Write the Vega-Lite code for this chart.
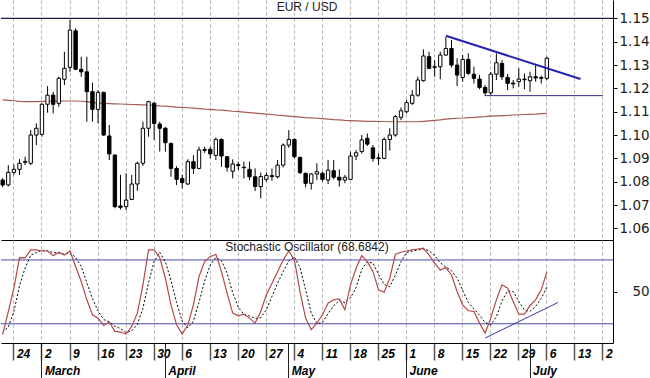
{
  "$schema": "https://vega.github.io/schema/vega-lite/v6.json",
  "padding": 0,
  "background": "white",
  "config": {"view": {"stroke": null}},
  "datasets": {
    "candles": [
      {"d":"2020-02-20","o":1.0807,"h":1.0815,"l":1.0776,"c":1.0786,"ma":1.1151,"k":10,"sd":12},
      {"d":"2020-02-21","o":1.0786,"h":1.0871,"l":1.0780,"c":1.0840,"ma":1.1149,"k":31.5,"sd":17},
      {"d":"2020-02-24","o":1.0840,"h":1.0874,"l":1.0829,"c":1.0853,"ma":1.1147,"k":53.4,"sd":31.6},
      {"d":"2020-02-25","o":1.0853,"h":1.0897,"l":1.0829,"c":1.0879,"ma":1.1144,"k":82.2,"sd":55.7},
      {"d":"2020-02-26","o":1.0883,"h":1.0907,"l":1.0871,"c":1.0887,"ma":1.1143,"k":82,"sd":72.5},
      {"d":"2020-02-27","o":1.0879,"h":1.1021,"l":1.0871,"c":1.1000,"ma":1.1143,"k":89.4,"sd":84.5},
      {"d":"2020-02-28","o":1.1000,"h":1.1050,"l":1.0957,"c":1.1029,"ma":1.1143,"k":89.4,"sd":86.9},
      {"d":"2020-03-02","o":1.1003,"h":1.1136,"l":1.0993,"c":1.1132,"ma":1.1144,"k":88.4,"sd":89.1},
      {"d":"2020-03-03","o":1.1132,"h":1.1210,"l":1.1096,"c":1.1171,"ma":1.1144,"k":88.4,"sd":88.7},
      {"d":"2020-03-04","o":1.1171,"h":1.1186,"l":1.1093,"c":1.1132,"ma":1.1145,"k":84,"sd":86.9},
      {"d":"2020-03-05","o":1.1136,"h":1.1250,"l":1.1121,"c":1.1243,"ma":1.1145,"k":87.2,"sd":86.5},
      {"d":"2020-03-06","o":1.1239,"h":1.1357,"l":1.1214,"c":1.1286,"ma":1.1146,"k":84.7,"sd":85.3},
      {"d":"2020-03-09","o":1.1290,"h":1.1493,"l":1.1271,"c":1.1450,"ma":1.1146,"k":88.4,"sd":86.8},
      {"d":"2020-03-10","o":1.1447,"h":1.1457,"l":1.1279,"c":1.1282,"ma":1.1146,"k":73.8,"sd":82.3},
      {"d":"2020-03-11","o":1.1282,"h":1.1336,"l":1.1250,"c":1.1271,"ma":1.1145,"k":59.7,"sd":74},
      {"d":"2020-03-12","o":1.1271,"h":1.1336,"l":1.1057,"c":1.1186,"ma":1.1143,"k":42.5,"sd":58.7},
      {"d":"2020-03-13","o":1.1186,"h":1.1224,"l":1.1057,"c":1.1110,"ma":1.1140,"k":28.4,"sd":43.5},
      {"d":"2020-03-16","o":1.1110,"h":1.1193,"l":1.1050,"c":1.1183,"ma":1.1137,"k":25.3,"sd":32.1},
      {"d":"2020-03-17","o":1.1183,"h":1.1186,"l":1.0996,"c":1.1000,"ma":1.1136,"k":18.4,"sd":24},
      {"d":"2020-03-18","o":1.0996,"h":1.1043,"l":1.0893,"c":1.0919,"ma":1.1135,"k":21.6,"sd":21.8},
      {"d":"2020-03-19","o":1.0914,"h":1.0918,"l":1.0686,"c":1.0693,"ma":1.1134,"k":12.8,"sd":17.6},
      {"d":"2020-03-20","o":1.0696,"h":1.0829,"l":1.0681,"c":1.0690,"ma":1.1133,"k":12.2,"sd":15.5},
      {"d":"2020-03-23","o":1.0693,"h":1.0836,"l":1.0679,"c":1.0721,"ma":1.1132,"k":10.3,"sd":11.8},
      {"d":"2020-03-24","o":1.0724,"h":1.0829,"l":1.0721,"c":1.0790,"ma":1.1131,"k":17.5,"sd":13.3},
      {"d":"2020-03-25","o":1.0790,"h":1.0886,"l":1.0761,"c":1.0879,"ma":1.1130,"k":30,"sd":19.3},
      {"d":"2020-03-26","o":1.0879,"h":1.1057,"l":1.0867,"c":1.1029,"ma":1.1129,"k":56.6,"sd":34.7},
      {"d":"2020-03-27","o":1.1029,"h":1.1147,"l":1.0993,"c":1.1143,"ma":1.1128,"k":89.4,"sd":58.7},
      {"d":"2020-03-30","o":1.1136,"h":1.1143,"l":1.0979,"c":1.1050,"ma":1.1127,"k":89.4,"sd":78.5},
      {"d":"2020-03-31","o":1.1047,"h":1.1057,"l":1.0929,"c":1.1029,"ma":1.1125,"k":82.2,"sd":87},
      {"d":"2020-04-01","o":1.1029,"h":1.1035,"l":1.0929,"c":1.0967,"ma":1.1124,"k":62.8,"sd":78.1},
      {"d":"2020-04-02","o":1.0964,"h":1.0968,"l":1.0821,"c":1.0857,"ma":1.1122,"k":37.8,"sd":60.9},
      {"d":"2020-04-03","o":1.0857,"h":1.0867,"l":1.0786,"c":1.0810,"ma":1.1120,"k":19,"sd":39.9},
      {"d":"2020-04-06","o":1.0814,"h":1.0829,"l":1.0771,"c":1.0796,"ma":1.1119,"k":10.3,"sd":22.4},
      {"d":"2020-04-07","o":1.0790,"h":1.0896,"l":1.0786,"c":1.0886,"ma":1.1117,"k":19,"sd":16.1},
      {"d":"2020-04-08","o":1.0886,"h":1.0914,"l":1.0833,"c":1.0857,"ma":1.1115,"k":37.8,"sd":22.4},
      {"d":"2020-04-09","o":1.0857,"h":1.0950,"l":1.0853,"c":1.0936,"ma":1.1113,"k":64.4,"sd":40.4},
      {"d":"2020-04-10","o":1.0934,"h":1.0950,"l":1.0924,"c":1.0938,"ma":1.1111,"k":78.4,"sd":60.2},
      {"d":"2020-04-13","o":1.0939,"h":1.0950,"l":1.0900,"c":1.0919,"ma":1.1110,"k":83.1,"sd":75.3},
      {"d":"2020-04-14","o":1.0913,"h":1.0990,"l":1.0893,"c":1.0981,"ma":1.1108,"k":85.3,"sd":82.3},
      {"d":"2020-04-15","o":1.0981,"h":1.0986,"l":1.0864,"c":1.0910,"ma":1.1107,"k":69,"sd":79.1},
      {"d":"2020-04-16","o":1.0907,"h":1.0910,"l":1.0843,"c":1.0862,"ma":1.1105,"k":48.8,"sd":67.7},
      {"d":"2020-04-17","o":1.0845,"h":1.0896,"l":1.0814,"c":1.0876,"ma":1.1102,"k":30,"sd":49.3},
      {"d":"2020-04-20","o":1.0873,"h":1.0886,"l":1.0850,"c":1.0869,"ma":1.1100,"k":27.5,"sd":35.4},
      {"d":"2020-04-21","o":1.0862,"h":1.0886,"l":1.0814,"c":1.0860,"ma":1.1098,"k":29,"sd":28.8},
      {"d":"2020-04-22","o":1.0853,"h":1.0886,"l":1.0807,"c":1.0821,"ma":1.1096,"k":25.3,"sd":27.3},
      {"d":"2020-04-23","o":1.0821,"h":1.0857,"l":1.0760,"c":1.0779,"ma":1.1094,"k":20.6,"sd":25},
      {"d":"2020-04-24","o":1.0779,"h":1.0839,"l":1.0729,"c":1.0822,"ma":1.1092,"k":31.6,"sd":25.8},
      {"d":"2020-04-27","o":1.0810,"h":1.0840,"l":1.0800,"c":1.0827,"ma":1.1090,"k":47.2,"sd":33.1},
      {"d":"2020-04-28","o":1.0826,"h":1.0857,"l":1.0804,"c":1.0822,"ma":1.1088,"k":58.1,"sd":45.6},
      {"d":"2020-04-29","o":1.0821,"h":1.0893,"l":1.0814,"c":1.0871,"ma":1.1085,"k":69,"sd":58.1},
      {"d":"2020-04-30","o":1.0871,"h":1.0964,"l":1.0861,"c":1.0957,"ma":1.1083,"k":80,"sd":69},
      {"d":"2020-05-01","o":1.0957,"h":1.1021,"l":1.0945,"c":1.0981,"ma":1.1081,"k":88.4,"sd":79.1},
      {"d":"2020-05-04","o":1.0981,"h":1.0986,"l":1.0900,"c":1.0907,"ma":1.1079,"k":80,"sd":82.8},
      {"d":"2020-05-05","o":1.0904,"h":1.0908,"l":1.0833,"c":1.0839,"ma":1.1077,"k":50.3,"sd":72.9},
      {"d":"2020-05-06","o":1.0836,"h":1.0839,"l":1.0776,"c":1.0793,"ma":1.1075,"k":25.3,"sd":51.9},
      {"d":"2020-05-07","o":1.0793,"h":1.0836,"l":1.0766,"c":1.0833,"ma":1.1074,"k":14.4,"sd":30},
      {"d":"2020-05-08","o":1.0833,"h":1.0879,"l":1.0807,"c":1.0843,"ma":1.1072,"k":20.6,"sd":20.1},
      {"d":"2020-05-11","o":1.0836,"h":1.0843,"l":1.0800,"c":1.0810,"ma":1.1070,"k":28.4,"sd":21.1},
      {"d":"2020-05-12","o":1.0807,"h":1.0893,"l":1.0790,"c":1.0850,"ma":1.1068,"k":39.4,"sd":29.5},
      {"d":"2020-05-13","o":1.0847,"h":1.0893,"l":1.0810,"c":1.0819,"ma":1.1066,"k":42.5,"sd":36.8},
      {"d":"2020-05-14","o":1.0819,"h":1.0853,"l":1.0779,"c":1.0807,"ma":1.1065,"k":43.4,"sd":41.8},
      {"d":"2020-05-15","o":1.0807,"h":1.0829,"l":1.0793,"c":1.0819,"ma":1.1063,"k":33.1,"sd":39.7},
      {"d":"2020-05-18","o":1.0810,"h":1.0929,"l":1.0807,"c":1.0910,"ma":1.1062,"k":56.6,"sd":44.4},
      {"d":"2020-05-19","o":1.0910,"h":1.0936,"l":1.0893,"c":1.0924,"ma":1.1061,"k":72.2,"sd":54},
      {"d":"2020-05-20","o":1.0929,"h":1.1000,"l":1.0921,"c":1.0979,"ma":1.1060,"k":84,"sd":71},
      {"d":"2020-05-21","o":1.0986,"h":1.1007,"l":1.0953,"c":1.0961,"ma":1.1059,"k":78.4,"sd":78.2},
      {"d":"2020-05-22","o":1.0945,"h":1.0957,"l":1.0886,"c":1.0900,"ma":1.1059,"k":69,"sd":77.1},
      {"d":"2020-05-25","o":1.0902,"h":1.0921,"l":1.0871,"c":1.0899,"ma":1.1058,"k":51.9,"sd":66.4},
      {"d":"2020-05-26","o":1.0900,"h":1.0990,"l":1.0896,"c":1.0981,"ma":1.1058,"k":49.7,"sd":56.9},
      {"d":"2020-05-27","o":1.0981,"h":1.1029,"l":1.0933,"c":1.1000,"ma":1.1057,"k":62.8,"sd":54.8},
      {"d":"2020-05-28","o":1.1000,"h":1.1086,"l":1.0993,"c":1.1079,"ma":1.1057,"k":85.3,"sd":65.9},
      {"d":"2020-05-29","o":1.1076,"h":1.1118,"l":1.1064,"c":1.1104,"ma":1.1057,"k":87.2,"sd":78.4},
      {"d":"2020-06-01","o":1.1100,"h":1.1150,"l":1.1093,"c":1.1139,"ma":1.1057,"k":88.4,"sd":87},
      {"d":"2020-06-02","o":1.1136,"h":1.1193,"l":1.1129,"c":1.1171,"ma":1.1057,"k":89.4,"sd":88.3},
      {"d":"2020-06-03","o":1.1171,"h":1.1250,"l":1.1164,"c":1.1236,"ma":1.1057,"k":90.3,"sd":89.4},
      {"d":"2020-06-04","o":1.1233,"h":1.1367,"l":1.1229,"c":1.1339,"ma":1.1059,"k":91,"sd":90.2},
      {"d":"2020-06-05","o":1.1336,"h":1.1357,"l":1.1282,"c":1.1286,"ma":1.1061,"k":84.7,"sd":88.7},
      {"d":"2020-06-08","o":1.1290,"h":1.1321,"l":1.1250,"c":1.1293,"ma":1.1063,"k":76.9,"sd":84.2},
      {"d":"2020-06-09","o":1.1293,"h":1.1357,"l":1.1239,"c":1.1343,"ma":1.1065,"k":70.6,"sd":77.4},
      {"d":"2020-06-10","o":1.1343,"h":1.1421,"l":1.1339,"c":1.1371,"ma":1.1068,"k":72.8,"sd":73.4},
      {"d":"2020-06-11","o":1.1371,"h":1.1407,"l":1.1290,"c":1.1300,"ma":1.1070,"k":65.9,"sd":69.8},
      {"d":"2020-06-12","o":1.1300,"h":1.1329,"l":1.1210,"c":1.1257,"ma":1.1072,"k":50.3,"sd":63},
      {"d":"2020-06-15","o":1.1247,"h":1.1343,"l":1.1229,"c":1.1324,"ma":1.1073,"k":37.8,"sd":51.3},
      {"d":"2020-06-16","o":1.1324,"h":1.1350,"l":1.1257,"c":1.1264,"ma":1.1075,"k":32.2,"sd":40.1},
      {"d":"2020-06-17","o":1.1261,"h":1.1293,"l":1.1221,"c":1.1243,"ma":1.1076,"k":31.6,"sd":33.9},
      {"d":"2020-06-18","o":1.1240,"h":1.1257,"l":1.1196,"c":1.1204,"ma":1.1078,"k":20.6,"sd":28.1},
      {"d":"2020-06-19","o":1.1204,"h":1.1214,"l":1.1169,"c":1.1181,"ma":1.1079,"k":11.3,"sd":21.2},
      {"d":"2020-06-22","o":1.1181,"h":1.1271,"l":1.1171,"c":1.1261,"ma":1.1081,"k":25.3,"sd":19.1},
      {"d":"2020-06-23","o":1.1261,"h":1.1350,"l":1.1236,"c":1.1310,"ma":1.1082,"k":42.5,"sd":26.4},
      {"d":"2020-06-24","o":1.1307,"h":1.1321,"l":1.1236,"c":1.1250,"ma":1.1083,"k":56.6,"sd":41.5},
      {"d":"2020-06-25","o":1.1247,"h":1.1261,"l":1.1193,"c":1.1221,"ma":1.1084,"k":53.4,"sd":50.8},
      {"d":"2020-06-26","o":1.1223,"h":1.1236,"l":1.1200,"c":1.1219,"ma":1.1086,"k":40.9,"sd":50.3},
      {"d":"2020-06-29","o":1.1229,"h":1.1286,"l":1.1207,"c":1.1240,"ma":1.1087,"k":29,"sd":41.1},
      {"d":"2020-06-30","o":1.1240,"h":1.1264,"l":1.1196,"c":1.1237,"ma":1.1088,"k":29,"sd":33},
      {"d":"2020-07-01","o":1.1233,"h":1.1271,"l":1.1186,"c":1.1250,"ma":1.1089,"k":37.2,"sd":31.7},
      {"d":"2020-07-02","o":1.1250,"h":1.1300,"l":1.1229,"c":1.1245,"ma":1.1090,"k":42.5,"sd":36.2},
      {"d":"2020-07-03","o":1.1243,"h":1.1254,"l":1.1221,"c":1.1247,"ma":1.1092,"k":51.9,"sd":43.9},
      {"d":"2020-07-06","o":1.1243,"h":1.1336,"l":1.1236,"c":1.1329,"ma":1.1093,"k":68.7,"sd":54.4}
    ],
    "res": [{"d":"2020-06-10","v":1.1426},{"d":"2020-07-14","v":1.1240}],
    "sup": [{"d":"2020-06-19","v":1.1169},{"d":"2020-07-20","v":1.1169}],
    "stt": [{"d":"2020-06-19","v":6.6},{"d":"2020-07-08","v":40}],
    "lvl": [{"v":1.15}],
    "olv": [{"v":80},{"v":20}]
  },
  "vconcat": [
    {
      "width": 612,
      "height": 240,
      "title": {"text": "EUR / USD", "offset": -14, "anchor": "middle", "font": "Liberation Sans", "fontSize": 12, "fontWeight": "normal", "color": "#222"},
      "layer": [
        {
          "data": {"name": "lvl"},
          "mark": {"type": "rule", "color": "#1e1e4a", "strokeWidth": 1.2},
          "encoding": {
            "y": {"field": "v", "type": "quantitative", "title": null,
              "scale": {"domain": [1.055, 1.1579], "nice": false, "zero": false},
              "axis": {"orient": "right", "title": null, "values": [1.06,1.07,1.08,1.09,1.10,1.11,1.12,1.13,1.14,1.15], "format": ".2f", "labelOverlap": false, "labelFlush": false, "domainColor": "#000", "tickColor": "#000", "tickSize": 4, "labelPadding": 2, "labelFont": "DejaVu Sans", "labelFontSize": 13.5, "labelColor": "#222", "grid": false}}
          }
        },
        {
          "data": {"name": "candles"},
          "mark": {"type": "line", "color": "#a65a55", "strokeWidth": 1.2},
          "encoding": {
            "x": {"field": "d", "type": "ordinal", "title": null,
              "scale": {"type": "band", "paddingInner": 0.4, "paddingOuter": 0.245, "align": 0, "domain": ["2020-02-20","2020-02-21","2020-02-24","2020-02-25","2020-02-26","2020-02-27","2020-02-28","2020-03-02","2020-03-03","2020-03-04","2020-03-05","2020-03-06","2020-03-09","2020-03-10","2020-03-11","2020-03-12","2020-03-13","2020-03-16","2020-03-17","2020-03-18","2020-03-19","2020-03-20","2020-03-23","2020-03-24","2020-03-25","2020-03-26","2020-03-27","2020-03-30","2020-03-31","2020-04-01","2020-04-02","2020-04-03","2020-04-06","2020-04-07","2020-04-08","2020-04-09","2020-04-10","2020-04-13","2020-04-14","2020-04-15","2020-04-16","2020-04-17","2020-04-20","2020-04-21","2020-04-22","2020-04-23","2020-04-24","2020-04-27","2020-04-28","2020-04-29","2020-04-30","2020-05-01","2020-05-04","2020-05-05","2020-05-06","2020-05-07","2020-05-08","2020-05-11","2020-05-12","2020-05-13","2020-05-14","2020-05-15","2020-05-18","2020-05-19","2020-05-20","2020-05-21","2020-05-22","2020-05-25","2020-05-26","2020-05-27","2020-05-28","2020-05-29","2020-06-01","2020-06-02","2020-06-03","2020-06-04","2020-06-05","2020-06-08","2020-06-09","2020-06-10","2020-06-11","2020-06-12","2020-06-15","2020-06-16","2020-06-17","2020-06-18","2020-06-19","2020-06-22","2020-06-23","2020-06-24","2020-06-25","2020-06-26","2020-06-29","2020-06-30","2020-07-01","2020-07-02","2020-07-03","2020-07-06","2020-07-07","2020-07-08","2020-07-09","2020-07-10","2020-07-13","2020-07-14","2020-07-15","2020-07-16","2020-07-17","2020-07-20","2020-07-21"]},
              "axis": {"orient": "bottom", "title": null, "values": ["2020-02-24","2020-03-02","2020-03-09","2020-03-16","2020-03-23","2020-03-30","2020-04-06","2020-04-13","2020-04-20","2020-04-27","2020-05-04","2020-05-11","2020-05-18","2020-05-25","2020-06-01","2020-06-08","2020-06-15","2020-06-22","2020-06-29","2020-07-06","2020-07-13","2020-07-20"], "labels": false, "ticks": false, "domain": true, "domainColor": "#000", "grid": true, "gridDash": [3,3], "gridColor": "#b0b0b0", "bandPosition": 0.5}},
            "y": {"field": "ma", "type": "quantitative", "title": null,
              "axis": {"orient": "right", "title": null, "values": [1.06,1.07,1.08,1.09,1.10,1.11,1.12,1.13,1.14,1.15], "format": ".2f", "labelOverlap": false, "labelFlush": false, "domainColor": "#000", "tickColor": "#000", "tickSize": 4, "labelPadding": 2, "labelFont": "DejaVu Sans", "labelFontSize": 13.5, "labelColor": "#222", "grid": false}}
          }
        },
        {
          "data": {"name": "candles"},
          "mark": {"type": "rule", "color": "#000", "strokeWidth": 1},
          "encoding": {
            "x": {"field": "d", "type": "ordinal", "title": null},
            "y": {"field": "l", "type": "quantitative", "title": null,
              "axis": {"orient": "right", "title": null, "values": [1.06,1.07,1.08,1.09,1.10,1.11,1.12,1.13,1.14,1.15], "format": ".2f", "labelOverlap": false, "labelFlush": false, "domainColor": "#000", "tickColor": "#000", "tickSize": 4, "labelPadding": 2, "labelFont": "DejaVu Sans", "labelFontSize": 13.5, "labelColor": "#222", "grid": false}},
            "y2": {"field": "h"}
          }
        },
        {
          "data": {"name": "candles"},
          "mark": {"type": "bar", "stroke": "#000", "strokeWidth": 1},
          "encoding": {
            "x": {"field": "d", "type": "ordinal", "title": null},
            "y": {"field": "o", "type": "quantitative", "title": null,
              "axis": {"orient": "right", "title": null, "values": [1.06,1.07,1.08,1.09,1.10,1.11,1.12,1.13,1.14,1.15], "format": ".2f", "labelOverlap": false, "labelFlush": false, "domainColor": "#000", "tickColor": "#000", "tickSize": 4, "labelPadding": 2, "labelFont": "DejaVu Sans", "labelFontSize": 13.5, "labelColor": "#222", "grid": false}},
            "y2": {"field": "c"},
            "fill": {"condition": {"test": "datum.c >= datum.o", "value": "#ffffff"}, "value": "#000000"}
          }
        },
        {
          "data": {"name": "res"},
          "mark": {"type": "line", "color": "#2424b0", "strokeWidth": 2},
          "encoding": {
            "x": {"field": "d", "type": "ordinal", "title": null},
            "y": {"field": "v", "type": "quantitative", "title": null,
              "axis": {"orient": "right", "title": null, "values": [1.06,1.07,1.08,1.09,1.10,1.11,1.12,1.13,1.14,1.15], "format": ".2f", "labelOverlap": false, "labelFlush": false, "domainColor": "#000", "tickColor": "#000", "tickSize": 4, "labelPadding": 2, "labelFont": "DejaVu Sans", "labelFontSize": 13.5, "labelColor": "#222", "grid": false}}
          }
        },
        {
          "data": {"name": "sup"},
          "mark": {"type": "line", "color": "#2e2e8a", "strokeWidth": 1},
          "encoding": {
            "x": {"field": "d", "type": "ordinal", "title": null},
            "y": {"field": "v", "type": "quantitative", "title": null,
              "axis": {"orient": "right", "title": null, "values": [1.06,1.07,1.08,1.09,1.10,1.11,1.12,1.13,1.14,1.15], "format": ".2f", "labelOverlap": false, "labelFlush": false, "domainColor": "#000", "tickColor": "#000", "tickSize": 4, "labelPadding": 2, "labelFont": "DejaVu Sans", "labelFontSize": 13.5, "labelColor": "#222", "grid": false}}
          }
        }
      ]
    },
    {
      "width": 612,
      "height": 103,
      "title": {"text": "Stochastic Oscillator (68.6842)", "offset": -14, "anchor": "middle", "font": "Liberation Sans", "fontSize": 12, "fontWeight": "normal", "color": "#222"},
      "resolve": {"axis": {"x": "independent"}},
      "layer": [
        {
          "data": {"name": "olv"},
          "mark": {"type": "rule", "color": "#4a4ab4", "strokeWidth": 1},
          "encoding": {
            "y": {"field": "v", "type": "quantitative", "title": null,
              "scale": {"domain": [1.9, 98.75], "nice": false, "zero": false},
              "axis": {"orient": "right", "title": null, "values": [50], "domainColor": "#000", "tickColor": "#000", "tickSize": 4, "labelPadding": 15, "labelFont": "DejaVu Sans", "labelFontSize": 13.5, "labelColor": "#222", "grid": false}}
          }
        },
        {
          "data": {"name": "candles"},
          "mark": {"type": "line", "color": "#000", "strokeWidth": 1, "strokeDash": [2,2]},
          "encoding": {
            "x": {"field": "d", "type": "ordinal", "title": null,
              "scale": {"type": "band", "paddingInner": 0.4, "paddingOuter": 0.245, "align": 0, "domain": ["2020-02-20","2020-02-21","2020-02-24","2020-02-25","2020-02-26","2020-02-27","2020-02-28","2020-03-02","2020-03-03","2020-03-04","2020-03-05","2020-03-06","2020-03-09","2020-03-10","2020-03-11","2020-03-12","2020-03-13","2020-03-16","2020-03-17","2020-03-18","2020-03-19","2020-03-20","2020-03-23","2020-03-24","2020-03-25","2020-03-26","2020-03-27","2020-03-30","2020-03-31","2020-04-01","2020-04-02","2020-04-03","2020-04-06","2020-04-07","2020-04-08","2020-04-09","2020-04-10","2020-04-13","2020-04-14","2020-04-15","2020-04-16","2020-04-17","2020-04-20","2020-04-21","2020-04-22","2020-04-23","2020-04-24","2020-04-27","2020-04-28","2020-04-29","2020-04-30","2020-05-01","2020-05-04","2020-05-05","2020-05-06","2020-05-07","2020-05-08","2020-05-11","2020-05-12","2020-05-13","2020-05-14","2020-05-15","2020-05-18","2020-05-19","2020-05-20","2020-05-21","2020-05-22","2020-05-25","2020-05-26","2020-05-27","2020-05-28","2020-05-29","2020-06-01","2020-06-02","2020-06-03","2020-06-04","2020-06-05","2020-06-08","2020-06-09","2020-06-10","2020-06-11","2020-06-12","2020-06-15","2020-06-16","2020-06-17","2020-06-18","2020-06-19","2020-06-22","2020-06-23","2020-06-24","2020-06-25","2020-06-26","2020-06-29","2020-06-30","2020-07-01","2020-07-02","2020-07-03","2020-07-06","2020-07-07","2020-07-08","2020-07-09","2020-07-10","2020-07-13","2020-07-14","2020-07-15","2020-07-16","2020-07-17","2020-07-20","2020-07-21"]},
              "axis": {"orient": "bottom", "title": null, "values": ["2020-02-24","2020-03-02","2020-03-09","2020-03-16","2020-03-23","2020-03-30","2020-04-06","2020-04-13","2020-04-20","2020-04-27","2020-05-04","2020-05-11","2020-05-18","2020-05-25","2020-06-01","2020-06-08","2020-06-15","2020-06-22","2020-06-29","2020-07-06","2020-07-13","2020-07-20"],
                "labelExpr": "datum.value == '2020-07-20' ? '2' : '' + toNumber(slice(datum.value, 8))",
                "labelAngle": 0, "labelAlign": "left", "labelBaseline": "alphabetic", "labelOffset": 3, "labelPadding": -2.5, "labelOverlap": false, "labelFlush": false,
                "labelFont": "Liberation Sans", "labelFontSize": 12, "labelFontWeight": "bold", "labelFontStyle": "italic", "labelColor": "#000",
                "tickSize": 17, "tickColor": "#555", "tickWidth": 1.5, "domainColor": "#000",
                "grid": true, "gridDash": [3,3], "gridColor": "#b0b0b0", "bandPosition": 0.5}},
            "y": {"field": "sd", "type": "quantitative", "title": null}
          }
        },
        {
          "data": {"name": "candles"},
          "mark": {"type": "line", "color": "#b34a4a", "strokeWidth": 1.2},
          "encoding": {
            "x": {"field": "d", "type": "ordinal", "title": null, "axis": null},
            "y": {"field": "k", "type": "quantitative", "title": null}
          }
        },
        {
          "data": {"name": "stt"},
          "mark": {"type": "line", "color": "#3838a0", "strokeWidth": 1},
          "encoding": {
            "x": {"field": "d", "type": "ordinal", "title": null,
              "axis": {"orient": "bottom", "title": null, "values": ["2020-03-02","2020-04-01","2020-05-01","2020-06-01","2020-07-01"],
                "labelExpr": "['','','','March','April','May','June','July'][toNumber(slice(datum.value, 5, 7))]",
                "labelAngle": 0, "labelAlign": "left", "labelBaseline": "alphabetic", "labelOffset": 3, "labelPadding": -3.5, "labelOverlap": false, "labelFlush": false,
                "labelFont": "Liberation Sans", "labelFontSize": 12, "labelFontWeight": "bold", "labelFontStyle": "italic", "labelColor": "#000",
                "tickSize": 35, "tickColor": "#222", "tickWidth": 1, "domain": false, "grid": false, "bandPosition": 0.5}},
            "y": {"field": "v", "type": "quantitative", "title": null}
          }
        }
      ]
    }
  ],
  "spacing": 0,
  "bounds": "flush"
}
